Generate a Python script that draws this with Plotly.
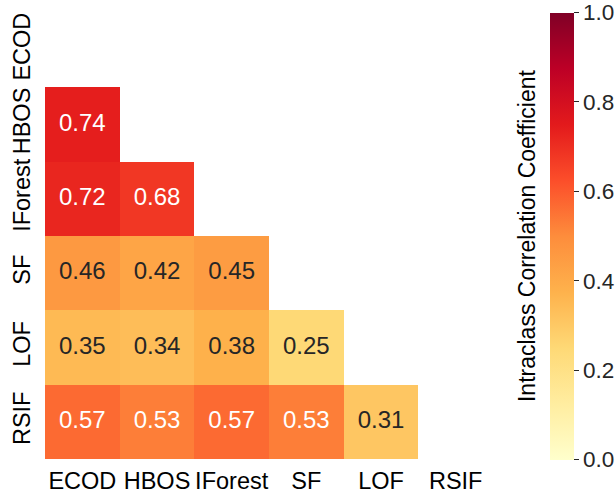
import plotly.graph_objects as go

# Detector names, shared by both axes
methods = ["ECOD", "HBOS", "IForest", "SF", "LOF", "RSIF"]

# Lower-triangle ICC values, one list per row (row i has i entries)
icc_hbos = [0.74]
icc_iforest = [0.72, 0.68]
icc_sf = [0.46, 0.42, 0.45]
icc_lof = [0.35, 0.34, 0.38, 0.25]
icc_rsif = [0.57, 0.53, 0.57, 0.53, 0.31]

colorbar_ticks = [0.0, 0.2, 0.4, 0.6, 0.8, 1.0]

rows = [[], icc_hbos, icc_iforest, icc_sf, icc_lof, icc_rsif]
n = len(methods)
z = [r + [None] * (n - len(r)) for r in rows]

FONT = "Liberation Sans, Arial, sans-serif"
DARK = "#262626"

fig = go.Figure()
fig.add_trace(go.Heatmap(
    z=z, x=methods, y=methods,
    colorscale="YlOrRd", zmin=0, zmax=1,
    hoverongaps=False,
    colorbar=dict(
        x=1.127, xanchor="left", xref="paper", xpad=0, ypad=0,
        y=0.5, yanchor="middle",
        len=447, lenmode="pixels", thickness=24,
        outlinewidth=0,
        tickvals=colorbar_ticks, tickformat=".1f",
        ticks="outside", ticklen=5, tickwidth=1, tickcolor=DARK,
        tickfont=dict(family=FONT, size=22.5, color=DARK),
    ),
))

# Cell labels: light text on dark cells, dark text on light cells
light_x, light_y, light_t = [], [], []
dark_x, dark_y, dark_t = [], [], []
for i, r in enumerate(rows):
    for j, v in enumerate(r):
        if v > 0.5:
            light_x.append(methods[j]); light_y.append(methods[i]); light_t.append(f"{v:.2f}")
        else:
            dark_x.append(methods[j]); dark_y.append(methods[i]); dark_t.append(f"{v:.2f}")

fig.add_trace(go.Scatter(x=light_x, y=light_y, text=light_t, mode="text",
                         textfont=dict(family=FONT, size=24, color="white"),
                         hoverinfo="skip", showlegend=False))
fig.add_trace(go.Scatter(x=dark_x, y=dark_y, text=dark_t, mode="text",
                         textfont=dict(family=FONT, size=24, color=DARK),
                         hoverinfo="skip", showlegend=False))

fig.add_annotation(
    text="Intraclass Correlation Coefficient",
    xref="paper", yref="paper", x=1.076, y=0.5,
    xanchor="center", yanchor="middle", textangle=-90, showarrow=False,
    font=dict(family=FONT, size=23, color="black"),
)

fig.update_xaxes(
    type="category", categoryorder="array", categoryarray=methods,
    showgrid=False, zeroline=False, showline=False, ticks="",
    tickfont=dict(family=FONT, size=23.5, color="black"),
    ticklabelstandoff=5,
    range=[-0.5, n - 0.5],
)
fig.update_yaxes(
    type="category", categoryorder="array", categoryarray=methods,
    showgrid=False, zeroline=False, showline=False, ticks="",
    tickangle=-90,
    tickfont=dict(family=FONT, size=23.5, color="black"),
    ticklabelstandoff=9,
    range=[n - 0.5, -0.5],
)

fig.update_layout(
    width=616, height=492,
    margin=dict(l=45, r=123, t=13, b=33, pad=0, autoexpand=False),
    paper_bgcolor="white", plot_bgcolor="white",
    showlegend=False,
)

fig.write_html("out.html")
